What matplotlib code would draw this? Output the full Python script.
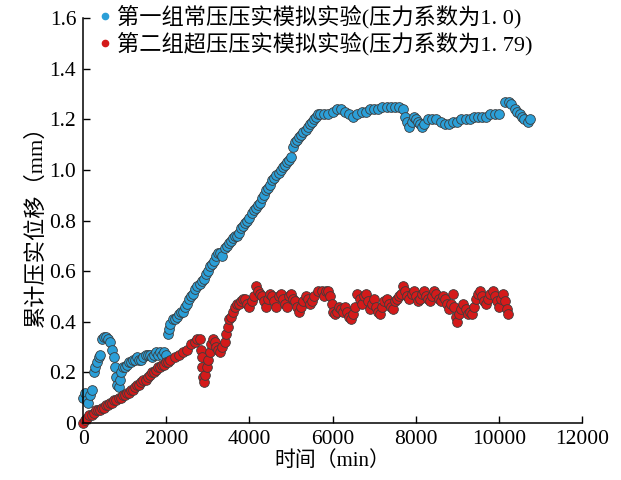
import matplotlib.pyplot as plt
from matplotlib.lines import Line2D

plt.rcParams['font.family'] = ['Liberation Serif', 'Noto Sans CJK SC']

# group 1: normal pressure (time in min, cumulative displacement in mm)
t1 = [0, 40, 80, 120, 160, 200,
      250, 290, 330, 370, 410,
      460, 500, 550, 600, 650, 700, 730, 760, 790, 820, 850, 880, 910, 950,
      1000, 1050, 1100, 1150, 1200, 1250, 1300, 1350, 1400, 1450, 1500, 1550,
      1600, 1650, 1700, 1750, 1800, 1850, 1900, 1950, 2000,
      2030, 2060, 2100, 2150, 2200, 2250, 2300, 2350, 2400, 2450, 2500, 2550,
      2600, 2650, 2700, 2750, 2800, 2850, 2900, 2950, 3000, 3050, 3100, 3150,
      3200, 3250, 3300, 3350, 3400, 3450, 3500, 3550, 3600, 3650, 3700, 3750,
      3800, 3850, 3900, 3950, 4000, 4050, 4100, 4150, 4200, 4250, 4300, 4350,
      4400, 4450, 4500, 4550, 4600, 4650, 4700, 4750, 4800, 4850, 4900, 4950,
      5000, 5050, 5100, 5150, 5200, 5250, 5300, 5350, 5400, 5450, 5500, 5550,
      5600, 5650, 5700, 5800, 5900, 6000, 6100, 6200, 6300, 6400, 6500, 6600,
      6700, 6800, 6900, 7000, 7100, 7200, 7300, 7400, 7500, 7600, 7700, 7750,
      7800, 7850, 7900, 7950, 8000, 8050, 8100, 8150, 8200, 8300, 8400, 8500,
      8600, 8700, 8800, 8900, 9000, 9100, 9200, 9300, 9400, 9500, 9600, 9700,
      9800, 9900, 10000,
      10150, 10250, 10300, 10400, 10450, 10500, 10550, 10600, 10700, 10750]
d1 = [0.10, 0.12, 0.09, 0.08, 0.11, 0.13,
      0.20, 0.22, 0.24, 0.26, 0.27,
      0.33, 0.34, 0.34, 0.33, 0.32, 0.29, 0.26, 0.22, 0.18, 0.15, 0.14, 0.17, 0.20, 0.22,
      0.22, 0.23, 0.24, 0.24, 0.25, 0.25, 0.26, 0.25, 0.25, 0.26, 0.27, 0.27,
      0.27, 0.26, 0.27, 0.28, 0.27, 0.28, 0.27, 0.28, 0.27,
      0.35, 0.37, 0.39, 0.41, 0.41, 0.42, 0.43, 0.44, 0.44, 0.46, 0.47, 0.49,
      0.50, 0.51, 0.53, 0.54, 0.55, 0.56, 0.57, 0.59, 0.60, 0.62, 0.63, 0.64,
      0.66, 0.67, 0.67, 0.66, 0.69, 0.70, 0.71, 0.72, 0.73, 0.74, 0.74, 0.75,
      0.77, 0.78, 0.79, 0.80, 0.81, 0.83, 0.84, 0.85, 0.86, 0.87, 0.89, 0.90,
      0.92, 0.93, 0.94, 0.96, 0.97, 0.98, 0.99, 1.00, 1.01, 1.02, 1.03, 1.04,
      1.05, 1.09, 1.11, 1.12, 1.13, 1.14, 1.15, 1.16, 1.17, 1.18, 1.19, 1.20,
      1.21, 1.22, 1.22, 1.22, 1.22, 1.23, 1.24, 1.24, 1.23, 1.22, 1.21, 1.22,
      1.23, 1.23, 1.24, 1.24, 1.24, 1.25, 1.25, 1.25, 1.25, 1.25, 1.24, 1.21,
      1.19, 1.17, 1.19, 1.21, 1.20, 1.19, 1.18, 1.17, 1.18, 1.20, 1.20, 1.20,
      1.19, 1.18, 1.18, 1.19, 1.19, 1.20, 1.20, 1.20, 1.21, 1.21, 1.21, 1.21,
      1.22, 1.22, 1.22,
      1.27, 1.27, 1.26, 1.24, 1.23, 1.22, 1.21, 1.20, 1.19, 1.20]

# group 2: over-pressure
t2 = [0, 50, 100, 150, 200, 250, 300, 350, 400, 450, 500, 550, 600, 650, 700,
      750, 800, 850, 900, 950, 1000, 1050, 1100, 1150, 1200, 1250, 1300, 1350,
      1400, 1450, 1500, 1550, 1600, 1650, 1700, 1750, 1800, 1850, 1900, 1950,
      2000, 2050, 2100, 2200, 2300, 2400, 2500, 2600, 2700, 2750, 2800,
      2830, 2850, 2870, 2890, 2910, 2940, 2970, 3000, 3040, 3080, 3120, 3160,
      3200, 3250, 3300, 3350, 3400, 3440, 3480, 3520, 3560, 3600, 3650, 3700,
      3750, 3800, 3850, 3900, 3950, 4000, 4050, 4100, 4150, 4200, 4250, 4300,
      4350, 4400, 4450, 4500, 4550, 4600, 4650, 4700, 4750, 4800, 4850, 4900,
      4950, 5000, 5050, 5100, 5150, 5200, 5250, 5300, 5350, 5400, 5450, 5500,
      5550, 5650, 5750, 5800, 5850, 5900, 5950, 5980, 6010, 6050, 6100, 6150,
      6200, 6250, 6300, 6350, 6400, 6450, 6500, 6550, 6600, 6650, 6700, 6750,
      6800, 6850, 6900, 6950, 7000, 7050, 7100, 7150, 7200, 7250, 7300, 7350,
      7400, 7450, 7500, 7550, 7600, 7650, 7700, 7750, 7800, 7850, 7900, 7950,
      8000, 8050, 8100, 8150, 8200, 8250, 8300, 8350, 8400, 8450, 8500, 8550,
      8600, 8650, 8700, 8750, 8800, 8850, 8900, 8930, 8960, 8990, 9050, 9100,
      9150, 9200, 9250, 9300, 9350, 9400, 9450, 9500, 9550, 9600, 9650, 9700,
      9750, 9800, 9850, 9900, 9950, 10000, 10050, 10100, 10150, 10200, 10230]
d2 = [0.00, 0.01, 0.02, 0.03, 0.03, 0.04, 0.05, 0.05, 0.05, 0.06, 0.06, 0.07, 0.07, 0.08, 0.08,
      0.09, 0.09, 0.10, 0.10, 0.11, 0.11, 0.12, 0.12, 0.13, 0.13, 0.14, 0.15, 0.15,
      0.16, 0.17, 0.17, 0.18, 0.19, 0.20, 0.20, 0.21, 0.22, 0.22, 0.23, 0.23,
      0.24, 0.24, 0.25, 0.26, 0.27, 0.28, 0.29, 0.31, 0.32, 0.33, 0.33,
      0.29, 0.26, 0.22, 0.18, 0.16, 0.19, 0.22, 0.25, 0.28, 0.31, 0.33, 0.32,
      0.30, 0.29, 0.28, 0.30, 0.32, 0.35, 0.38, 0.41, 0.42, 0.44, 0.46, 0.47,
      0.47, 0.48, 0.49, 0.49, 0.47, 0.46, 0.48, 0.50, 0.54, 0.52, 0.51, 0.50,
      0.48, 0.46, 0.49, 0.51, 0.50, 0.48, 0.46, 0.50, 0.51, 0.49, 0.47, 0.46,
      0.50, 0.51, 0.49, 0.48, 0.46, 0.44, 0.46, 0.48, 0.50, 0.49, 0.47, 0.48,
      0.50, 0.52, 0.52, 0.50, 0.52, 0.52, 0.50, 0.47, 0.44, 0.43, 0.44, 0.46,
      0.45, 0.44, 0.46, 0.44, 0.42, 0.41, 0.43, 0.46, 0.51, 0.49, 0.47, 0.50,
      0.51, 0.48, 0.45, 0.47, 0.49, 0.46, 0.44, 0.43, 0.46, 0.48, 0.49, 0.47,
      0.46, 0.45, 0.48, 0.49, 0.50, 0.51, 0.54, 0.52, 0.50, 0.49, 0.51, 0.52,
      0.50, 0.48, 0.49, 0.51, 0.52, 0.50, 0.49, 0.48, 0.50, 0.52, 0.51, 0.49,
      0.48, 0.50, 0.49, 0.47, 0.45, 0.47, 0.51, 0.46, 0.42, 0.40, 0.43, 0.45,
      0.47, 0.45, 0.43, 0.44, 0.43, 0.46, 0.49, 0.51, 0.52, 0.50, 0.48, 0.47,
      0.49, 0.51, 0.52, 0.50, 0.48, 0.46, 0.49, 0.51, 0.48, 0.45, 0.43]

labels = ['第一组常压压实模拟实验(压力系数为1. 0)',
          '第二组超压压实模拟实验(压力系数为1. 79)']
xticks = [0, 2000, 4000, 6000, 8000, 10000, 12000]
yticks = [0, 0.2, 0.4, 0.6, 0.8, 1.0, 1.2, 1.4, 1.6]
yticklabels = ['0', '0.2', '0.4', '0.6', '0.8', '1.0', '1.2', '1.4', '1.6']

blue = '#2b9fd8'
red = '#d41a1a'
edge = '#3c3c3c'

fig = plt.figure(figsize=(6.21, 4.8), dpi=100)
ax = fig.add_axes([0.134, 0.119, 0.803, 0.843])

ax.plot(t1, d1, 'o', ms=7, mfc=blue, mec=edge, mew=0.6, clip_on=False)
ax.plot(t2, d2, 'o', ms=7, mfc=red, mec=edge, mew=0.6, clip_on=False)

ax.set_xlim(0, 12000)
ax.set_ylim(0, 1.6)
ax.set_xticks(xticks)
ax.set_xticklabels([str(v) for v in xticks])
ax.set_yticks(yticks)
ax.set_yticklabels(yticklabels)
ax.tick_params(direction='in', length=5, width=1, labelsize=15.5, pad=5)

for side in ['top', 'right']:
    ax.spines[side].set_visible(False)
for side in ['left', 'bottom']:
    ax.spines[side].set_linewidth(1.1)

ax.set_xlabel('时间（min）', fontsize=15, labelpad=2)
ax.set_ylabel('累计压实位移（mm）', fontsize=16, labelpad=2)

handles = [Line2D([], [], ls='none', marker='o', ms=4.5, mfc=blue, mec=blue),
           Line2D([], [], ls='none', marker='o', ms=4.5, mfc=red, mec=red)]
ax.legend(handles, labels, loc='upper left', bbox_to_anchor=(0.015, 1.055),
          frameon=False, fontsize=16, handlelength=0.5, handletextpad=0.3,
          labelspacing=0.15, borderaxespad=0)

fig.savefig('out.png', dpi=100)
